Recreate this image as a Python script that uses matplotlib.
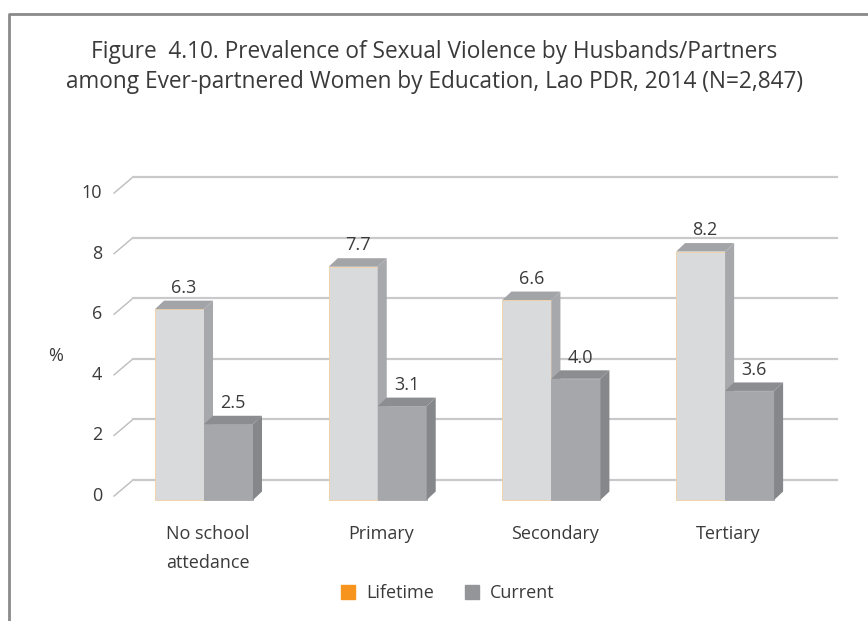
import matplotlib
matplotlib.use("Agg")
import matplotlib.pyplot as plt
from matplotlib.lines import Line2D

categories = ["No school\nattedance", "Primary", "Secondary", "Tertiary"]
lifetime = [6.3, 7.7, 6.6, 8.2]
current = [2.5, 3.1, 4.0, 3.6]
yticks = [0, 2, 4, 6, 8, 10]

plt.rcParams['font.family'] = ['Open Sans', 'DejaVu Sans']
txt = '#3a3a3a'

fig = plt.figure(figsize=(8.68, 6.21), dpi=100)
ax = fig.add_axes([0, 0, 1, 1])
ax.set_xlim(-1.1744, 3.8227)
ax.set_ylim(-3.993, 16.502)
ax.axis('off')

# wall gridlines (3d look)
wx0, wx1, wx_end = -0.518, -0.409, 3.644
for v in yticks:
    ax.plot([wx0, wx1], [v + 0.13, v + 0.66], color='#bdbdbd', lw=1.0, zorder=1)
    ax.plot([wx1, wx_end], [v + 0.66, v + 0.66], color='#c9c9cb', lw=1.6, zorder=1)
    ax.text(-0.585, v + 0.13, str(v), ha='right', va='center', fontsize=13, color=txt)
ax.text(-0.855, 4.75, '%', ha='center', va='center', fontsize=13, color=txt)

w = 0.282
ddx, ddy = 0.052, 0.28
xs = range(len(categories))


def bars3d(offset, vals, front, side, top, edge):
    pos = [i + offset for i in xs]
    ax.bar(pos, vals, width=w, color=front, edgecolor=edge, linewidth=0.6, zorder=3)
    for x, v in zip(pos, vals):
        l, r = x - w / 2, x + w / 2
        ax.fill([r, r + ddx, r + ddx, r], [0, ddy, v + ddy, v], color=side, lw=0, zorder=3)
        ax.fill([l, l + ddx, r + ddx, r], [v, v + ddy, v + ddy, v], color=top, lw=0, zorder=3)
        ax.text(x + ddx / 2, v + ddy + 0.42, f'{v:.1f}', ha='center', va='center',
                fontsize=13, color=txt, zorder=4)


bars3d(-w / 2, lifetime, '#d9dadc', '#a7a8ab', '#a3a4a7', '#f0cfa0')
bars3d(w / 2, current, '#a6a7aa', '#86878a', '#8c8d90', '#a6a7aa')

for i, c in enumerate(categories):
    ax.text(i + 0.02, -0.83, c, ha='center', va='top', fontsize=13, color=txt,
            linespacing=1.75)

fig.text(0.5, 1 - 52 / 621, 'Figure  4.10. Prevalence of Sexual Violence by Husbands/Partners',
         ha='center', va='center', fontsize=16.3, color=txt)
fig.text(0.5, 1 - 82 / 621, 'among Ever-partnered Women by Education, Lao PDR, 2014 (N=2,847)',
         ha='center', va='center', fontsize=16.3, color=txt)

handles = [Line2D([], [], marker='s', ls='', color='#f7941d', markersize=10),
           Line2D([], [], marker='s', ls='', color='#939598', markersize=10)]
fig.legend(handles, ['Lifetime', 'Current'], loc='center', bbox_to_anchor=(0.51, 1 - 593 / 621),
           ncol=2, frameon=False, fontsize=13, handletextpad=0.0, columnspacing=1.1,
           labelcolor=txt)

# outer frame (top and left only)
fig.add_artist(Line2D([9 / 868, 9 / 868, 1], [0, 1 - 14 / 621, 1 - 14 / 621],
                      color='#8a8a8a', lw=2.0, transform=fig.transFigure))

fig.savefig('out.png', dpi=100)
